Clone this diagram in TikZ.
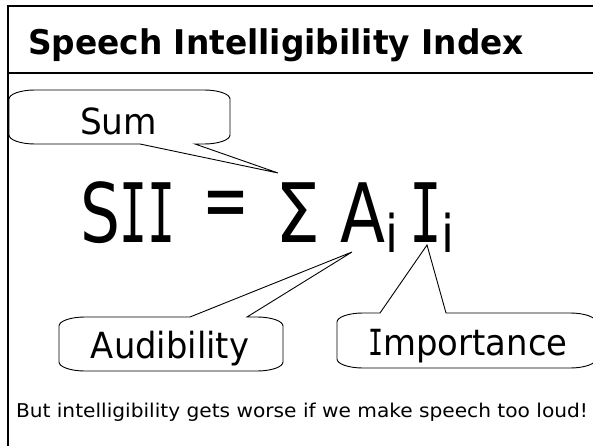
\documentclass[tikz,border=0pt]{standalone}
\usepackage{fontspec}
\usepackage{graphicx}
\setmainfont{DejaVu Sans Condensed}
\newfontfamily\headfont{DejaVu Sans}
\newfontfamily\monofont{DejaVu Sans Mono}

% squeeze or stretch a text horizontally to a given width
\newcommand\fitw[2]{\resizebox{#1}{\height}{#2}}
% capital I with serifs
\newcommand\serifI{\resizebox{0.4em}{\height}{\monofont I}}

% corner radii of the speech bubbles
\def\crx{26}
\def\cry{9}

% bubble with its pointer on the bottom edge:
% x1, y1, x2, y2, right base of pointer, left base of pointer, tip
\newcommand\bubbledown[7]{%
  \draw[bubble] (#1+\crx,#2) -- (#3-\crx,#2)
    .. controls (#3-0.45*\crx,#2) and (#3,#2+0.45*\cry) .. (#3,#2+\cry)
    -- (#3,#4-\cry)
    .. controls (#3,#4-0.45*\cry) and (#3-0.45*\crx,#4) .. (#3-\crx,#4)
    -- (#5,#4) -- (#7) -- (#6,#4)
    -- (#1+\crx,#4)
    .. controls (#1+0.45*\crx,#4) and (#1,#4-0.45*\cry) .. (#1,#4-\cry)
    -- (#1,#2+\cry)
    .. controls (#1,#2+0.45*\cry) and (#1+0.45*\crx,#2) .. (#1+\crx,#2) -- cycle;}

% bubble with its pointer on the top edge:
% x1, y1, x2, y2, left base of pointer, right base of pointer, tip
\newcommand\bubbleup[7]{%
  \draw[bubble] (#1+\crx,#2) -- (#5,#2) -- (#7) -- (#6,#2)
    -- (#3-\crx,#2)
    .. controls (#3-0.45*\crx,#2) and (#3,#2+0.45*\cry) .. (#3,#2+\cry)
    -- (#3,#4-\cry)
    .. controls (#3,#4-0.45*\cry) and (#3-0.45*\crx,#4) .. (#3-\crx,#4)
    -- (#1+\crx,#4)
    .. controls (#1+0.45*\crx,#4) and (#1,#4-0.45*\cry) .. (#1,#4-\cry)
    -- (#1,#2+\cry)
    .. controls (#1,#2+0.45*\cry) and (#1+0.45*\crx,#2) .. (#1+\crx,#2) -- cycle;}

\begin{document}
\begin{tikzpicture}[x=1pt,y=-1pt,
  every node/.style={inner sep=0pt,outer sep=0pt},
  bubble/.style={draw=black,line width=0.9pt,line join=miter},
  frameline/.style={draw=black,line width=2.6pt},
  bigmath/.style={font=\fontsize{82}{90}\selectfont},
  subidx/.style={font=\fontsize{52}{58}\selectfont},
  label/.style={font=\fontsize{36}{42}\selectfont}]
\useasboundingbox (0,0) rectangle (593,446);

% slide frame and title bar
\draw[frameline] (8,446) -- (8,6) -- (594,6);
\draw[draw=black,line width=2pt] (8,73) -- (594,73);
\node[anchor=base west] (title) at (28,55)
  {\fitw{496pt}{\headfont\bfseries\fontsize{34}{40}\selectfont Speech Intelligibility Index}};

% the formula
\node[bigmath,anchor=base west] (sii) at (80,242) {\fitw{96pt}{S\serifI\serifI}};
\node[bigmath] (eq) at (226,210) {\fitw{47pt}{=}};
\node[bigmath,anchor=base] (sigma) at (298,242) {\fitw{45pt}{Σ}};
\node[bigmath,anchor=base west] (a) at (340,242) {\fitw{45pt}{A}};
\node[subidx,anchor=base west] (ai) at (385,252) {i};
\node[bigmath,anchor=base] (ii) at (426,242) {\serifI};
\node[subidx,anchor=base west] (iii) at (441,252) {i};

% pointer tips
\coordinate (sumtip) at (278,173);
\coordinate (audtip) at (352,252);
\coordinate (imptip) at (427,245);

% speech bubbles
\bubbledown{9}{90}{230}{144}{195}{140}{sumtip}
\node[label,anchor=base] (sum) at (118.5,135) {\fitw{77pt}{Sum}};

\bubbleup{59}{317}{283}{371}{190}{247}{audtip}
\node[label,anchor=base] (aud) at (170,358) {\fitw{158pt}{Audibility}};

\bubbleup{337}{313}{596}{368}{380}{446}{imptip}
\node[label,anchor=base] (imp) at (468,355) {\fitw{199pt}{\serifI mportance}};

% closing remark
\node[anchor=base] (note) at (302,417)
  {\fitw{572pt}{\fontsize{19}{23}\selectfont But intelligibility gets worse if we make speech too loud!}};
\end{tikzpicture}
\end{document}
